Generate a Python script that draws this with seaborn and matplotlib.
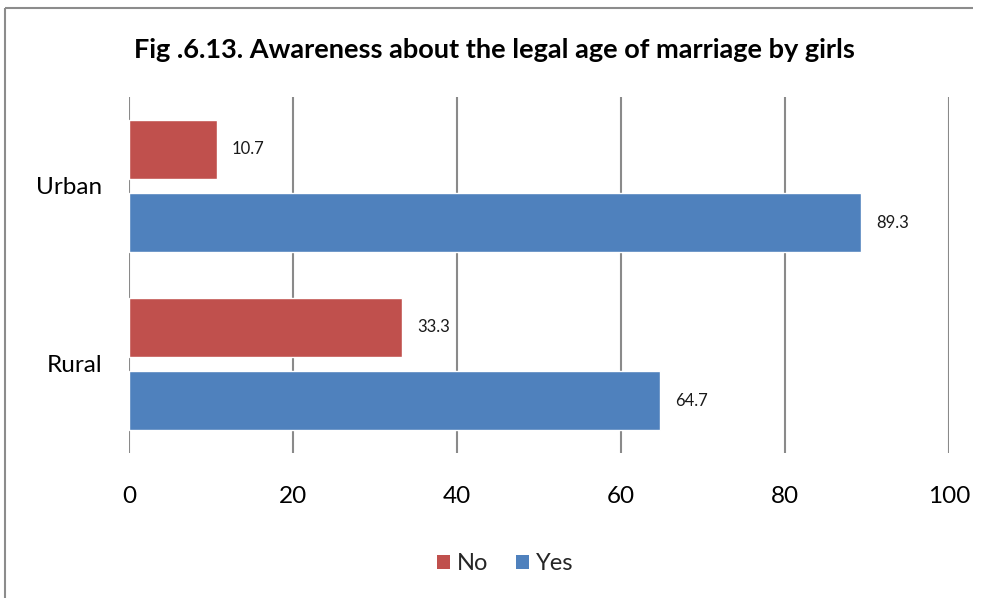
import matplotlib
matplotlib.use("Agg")
import matplotlib.pyplot as plt
from matplotlib.lines import Line2D
from matplotlib.patches import Patch
import seaborn as sns
import pandas as pd

# Survey results (% of girls)
areas = ["Urban", "Rural"]
responses = ["No", "Yes"]
no_values = [10.7, 33.3]
yes_values = [89.3, 64.7]
x_ticks = [0, 20, 40, 60, 80, 100]
title = "Fig .6.13. Awareness about the legal age of marriage by girls"

palette = {"No": "#C0504D", "Yes": "#4F81BD"}

df = pd.DataFrame({
    "Area": areas * 2,
    "Response": ["No"] * len(areas) + ["Yes"] * len(areas),
    "Percent": no_values + yes_values,
})

sns.set_theme(style="white")
plt.rcParams["font.family"] = ["Lato", "DejaVu Sans"]

fig = plt.figure(figsize=(9.88, 5.99), dpi=100)
ax = fig.add_axes([129 / 988, 1 - 453 / 599, 820 / 988, 356 / 599])

sns.barplot(data=df, y="Area", x="Percent", hue="Response", order=areas,
            hue_order=responses, palette=palette, orient="y", width=0.83,
            gap=0.2, saturation=1, legend=False, ax=ax)

ax.set_xlim(0, 100)
ax.set_ylim(1.5, -0.5)
ax.set_xticks(x_ticks)
ax.set_xticklabels([str(t) for t in x_ticks], fontsize=17.5)
ax.tick_params(axis="x", length=0, pad=24, colors="black")
ax.tick_params(axis="y", length=0, pad=19, labelsize=17.5, colors="black")
ax.set_xlabel("")
ax.set_ylabel("")
for s in ax.spines.values():
    s.set_visible(False)
ax.grid(axis="x", color="#8a8a8a", linewidth=1.5)
ax.set_axisbelow(True)

# value labels next to each bar
for container in ax.containers:
    ax.bar_label(container, fmt="%.1f", padding=11, fontsize=12, color="#1a1a1a")

fig.text(0.5, 1 - 50 / 599, title, ha="center", va="center",
         fontsize=19.5, fontweight="bold", color="black")

handles = [Patch(facecolor=palette[r], edgecolor="none", label=r) for r in responses]
fig.legend(handles=handles, loc="center", bbox_to_anchor=(505 / 988, 1 - 564 / 599),
           ncol=2, frameon=False, fontsize=17, handlelength=0.55, handleheight=0.55,
           handletextpad=0.3, columnspacing=1.15)

# chart area border (top and left edges)
top_y = 1 - 8 / 599
left_x = 5 / 988
fig.add_artist(Line2D([left_x, 0.985], [top_y, top_y], transform=fig.transFigure,
                      color="#8c8c8c", linewidth=1.5, solid_capstyle="butt"))
fig.add_artist(Line2D([left_x, left_x], [0.001, top_y], transform=fig.transFigure,
                      color="#8c8c8c", linewidth=1.5, solid_capstyle="butt"))

fig.savefig("out.png", dpi=100)
